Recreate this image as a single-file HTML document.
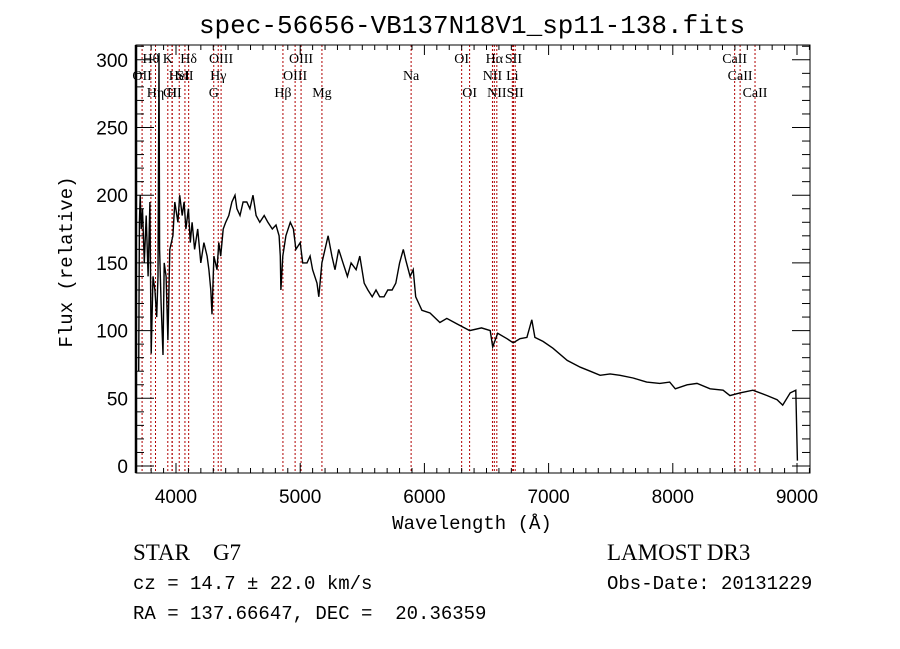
<!DOCTYPE html>
<html><head><meta charset="utf-8"><style>
body{margin:0;background:#fff}
svg{display:block}
text{white-space:pre}
</style></head><body>
<svg id="chart" width="900" height="649" xmlns="http://www.w3.org/2000/svg" xml:space="preserve">
<rect width="900" height="649" fill="#fff"/>
<text x="472" y="33" text-anchor="middle" font-family="Liberation Mono, monospace" font-size="26">spec-56656-VB137N18V1_sp11-138.fits</text>
<g id="lines"></g>
<g id="labels"></g>
<path id="spec" fill="none" stroke="#000" stroke-width="1.4"/>
<g id="axes"></g>
<text x="472" y="529" text-anchor="middle" font-family="Liberation Mono, monospace" font-size="19">Wavelength (Å)</text>
<text transform="translate(72,262) rotate(-90)" text-anchor="middle" font-family="Liberation Mono, monospace" font-size="19">Flux (relative)</text>
<text x="133" y="560" font-family="Liberation Serif, serif" font-size="23">STAR    G7</text>
<text x="133" y="589" font-family="Liberation Mono, monospace" font-size="19">cz = 14.7 ± 22.0 km/s</text>
<text x="133" y="619" font-family="Liberation Mono, monospace" font-size="19">RA = 137.66647, DEC =  20.36359</text>
<text x="607" y="560" font-family="Liberation Serif, serif" font-size="23">LAMOST DR3</text>
<text x="607" y="589" font-family="Liberation Mono, monospace" font-size="19">Obs-Date: 20131229</text>
</svg>
<script>
const waves=[3700,3705,3712,3720,3730,3745,3760,3775,3790,3800,3815,3830,3845,3855,3863,3868,3880,3895,3905,3920,3935,3950,3975,3990,4015,4030,4050,4065,4080,4100,4115,4130,4150,4175,4200,4225,4250,4265,4280,4290,4305,4330,4345,4360,4380,4400,4425,4450,4475,4490,4515,4540,4570,4595,4620,4645,4675,4710,4740,4775,4805,4830,4840,4845,4860,4885,4920,4945,4965,5000,5020,5055,5080,5100,5135,5150,5175,5200,5225,5255,5280,5310,5345,5380,5410,5450,5480,5515,5545,5580,5610,5640,5675,5705,5740,5770,5800,5830,5850,5885,5910,5930,5955,5980,6045,6125,6180,6260,6365,6460,6530,6550,6590,6665,6715,6770,6825,6865,6890,6955,7035,7150,7255,7335,7415,7495,7575,7680,7790,7895,7975,8020,8115,8195,8300,8405,8460,8540,8645,8760,8840,8885,8945,8990,9003];
const flux=[70,180,200,175,190,150,185,140,195,83,140,130,110,140,305,160,120,82,150,140,93,160,170,195,180,200,185,195,175,190,165,180,160,175,150,165,155,145,130,112,155,145,165,155,175,180,185,195,200,190,185,195,195,190,200,185,180,185,180,175,178,170,155,130,155,170,180,175,160,165,150,150,155,145,135,125,150,160,170,155,145,160,150,140,150,145,155,135,130,125,130,125,125,130,130,135,150,160,152,140,145,125,120,115,113,106,109,105,100,102,100,88,98,94,91,94,95,108,95,92,87,78,73,70,67,68,67,65,62,61,62,57,60,61,57,56,52,54,56,52,49,45,54,56,4];
const lineWaves=[3727,3798,3835,3934,3968,3970,4026,4072,4102,4304,4340,4363,4861,4959,5007,5175,5893,6300,6364,6548,6563,6583,6708,6717,6731,8498,8542,8662];
const labelText=["OII","Hθ","Hη","K","H","CII","HeI","SII","Hδ","G","Hγ","OIII","Hβ","OIII","OIII","Mg","Na","OI","OI","NII","Hα","NII","Li","SII","SII","CaII","CaII","CaII"];
const labelRow=[1,0,2,0,2,2,1,1,0,2,1,0,2,1,0,2,1,0,2,1,0,2,1,0,2,0,1,2];
const xTicks=[4000,5000,6000,7000,8000,9000];
const yTicks=[0,50,100,150,200,250,300];

const L=136,R=810,T=45,B=473;
const x=w=>176+(w-4000)*0.1242;
const y=f=>466-f*1.354;
const NS="http://www.w3.org/2000/svg";
function mk(tag,parent,attrs){const e=document.createElementNS(NS,tag);for(const k in attrs)e.setAttribute(k,attrs[k]);parent.appendChild(e);return e;}

const lg=document.getElementById('lines'),lb=document.getElementById('labels');
lineWaves.forEach((w,i)=>{
  const l=mk('line',lg,{x1:x(w),x2:x(w),y1:T,y2:B,stroke:'#b00000','stroke-width':1,'stroke-dasharray':'2,2'});
  
  
  const t=mk('text',lb,{x:x(w),y:63+labelRow[i]*17,'text-anchor':'middle','font-family':'Liberation Serif, serif','font-size':14});
  t.textContent=labelText[i];
  
  
});

let d='';
waves.forEach((w,i)=>{d+=(i?'L':'M')+x(w).toFixed(1)+','+y(flux[i]).toFixed(1);});
document.getElementById('spec').setAttribute('d',d);

const ax=document.getElementById('axes');
const fr=mk('rect',ax,{x:L,y:T,width:R-L,height:B-T,fill:'none',stroke:'#000','stroke-width':1});


mk('line',ax,{x1:L,x2:L,y1:T,y2:B,stroke:'#000','stroke-width':2.5});
for(let w=3800;w<=9100;w+=100){
  const major=w%1000===0,len=major?10:5;
  mk('line',ax,{x1:x(w),x2:x(w),y1:B,y2:B-len,stroke:'#000'});
  mk('line',ax,{x1:x(w),x2:x(w),y1:T,y2:T+len,stroke:'#000'});
}
xTicks.forEach(v=>{
  const t=mk('text',ax,{x:x(v),y:503,'text-anchor':'middle','font-family':'Liberation Sans, sans-serif','font-size':19});
  t.textContent=v;
  
  
});
for(let f=0;f<=310;f+=10){
  const major=f%50===0,len=major?18:8;
  mk('line',ax,{x1:L,x2:L+len,y1:y(f),y2:y(f),stroke:'#000'});
  mk('line',ax,{x1:R,x2:R-len,y1:y(f),y2:y(f),stroke:'#000'});
}
yTicks.forEach(v=>{
  const t=mk('text',ax,{x:128,y:y(v)+7,'text-anchor':'end','font-family':'Liberation Sans, sans-serif','font-size':19});
  t.textContent=v;
  
  
});
</script>
</body></html>
